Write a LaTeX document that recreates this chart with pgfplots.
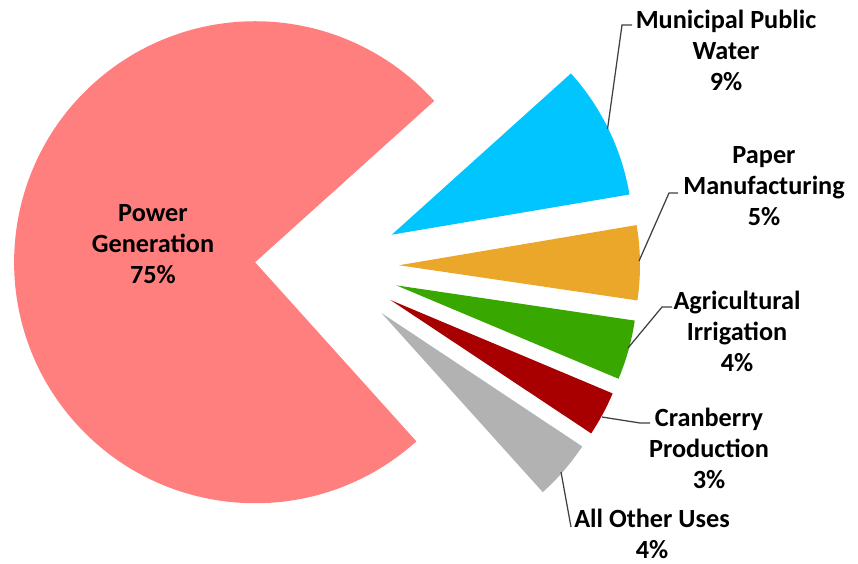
\documentclass[border=0pt]{standalone}
\usepackage{pgfplots}
\pgfplotsset{compat=1.18}
\usepackage{fontspec}
\setmainfont{Carlito}
\definecolor{cPow}{HTML}{FF7F7F}
\definecolor{cMun}{HTML}{00C5FF}
\definecolor{cPap}{HTML}{EAA72A}
\definecolor{cAgr}{HTML}{38A800}
\definecolor{cCra}{HTML}{A80000}
\definecolor{cOth}{HTML}{B2B2B2}
\definecolor{cLead}{HTML}{404040}
\begin{document}
\begin{tikzpicture}
\begin{axis}[x=0.4pt, y=0.4pt, xmin=0, xmax=858, ymin=0, ymax=563,
  scale only axis, hide axis, clip=false]
% shares in percent, clockwise from 42 degrees
\xdef\astart{42}
\foreach \p/\col in {9/cMun, 5/cPap, 4/cAgr, 3/cCra, 4/cOth, 75/cPow} {
  \pgfmathsetmacro\aend{\astart-3.6*\p}
  \pgfmathsetmacro\amid{(\astart+\aend)/2}
  \edef\temp{\noexpand\fill[\col] (axis cs:327,297) ++(\amid:28.8pt) -- ++(\astart:96.4pt)
    arc[start angle=\astart, end angle=\aend, radius=96.4pt] -- cycle;}
  \temp
  \xdef\astart{\aend}
}
\draw[cLead, line width=0.5pt] (axis cs:607.5,434) -- (axis cs:622,538) -- (axis cs:632,538);
\draw[cLead, line width=0.5pt] (axis cs:639,302) -- (axis cs:669,370) -- (axis cs:678,370);
\draw[cLead, line width=0.5pt] (axis cs:628,215) -- (axis cs:662,256) -- (axis cs:672,256);
\draw[cLead, line width=0.5pt] (axis cs:602,146) -- (axis cs:640,140) -- (axis cs:650,140);
\draw[cLead, line width=0.5pt] (axis cs:561,91) -- (axis cs:571,36);
\tikzset{lab/.style={align=center, inner sep=0pt, font=\bfseries\fontsize{10.5}{12.4}\selectfont}}
\node[lab] at (axis cs:153,319) {Power\\Generation\\75\%};
\node[lab] at (axis cs:726,513) {Municipal Public\\Water\\9\%};
\node[lab] at (axis cs:764,377) {Paper\\Manufacturing\\5\%};
\node[lab] at (axis cs:737,232) {Agricultural\\Irrigation\\4\%};
\node[lab] at (axis cs:709,115) {Cranberry\\Production\\3\%};
\node[lab] at (axis cs:652,29) {All Other Uses\\4\%};
\end{axis}
\pgfresetboundingbox
\path (current axis.south west) rectangle (current axis.north east);
\end{tikzpicture}
\end{document}
